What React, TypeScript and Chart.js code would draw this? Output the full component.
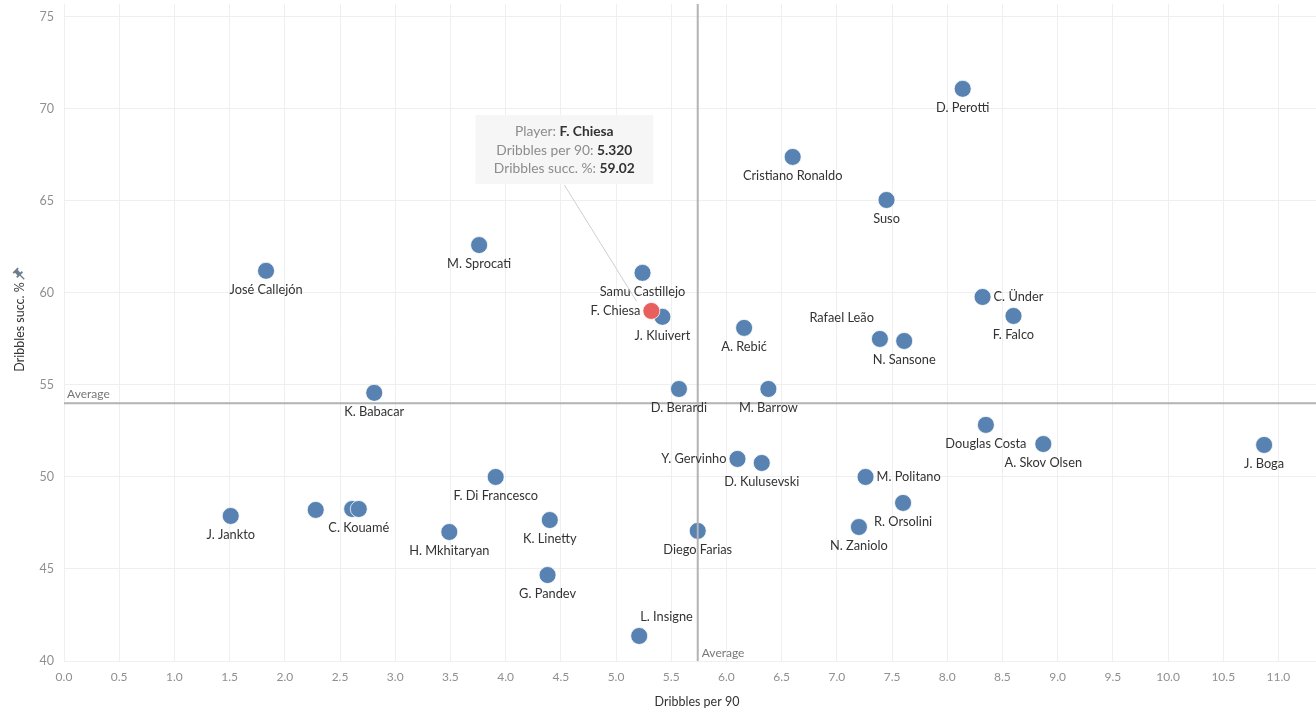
import React, { useEffect, useRef } from "react";
import { Chart, registerables } from "chart.js";

Chart.register(...registerables);

const players = [
  "D. Perotti", "Cristiano Ronaldo", "Suso", "M. Sprocati", "José Callejón",
  "Samu Castillejo", "C. Ünder", "F. Falco", "J. Kluivert", "A. Rebić",
  "Rafael Leão", "N. Sansone", "K. Babacar", "D. Berardi", "M. Barrow",
  "Douglas Costa", "A. Skov Olsen", "J. Boga", "F. Di Francesco", "Y. Gervinho",
  "D. Kulusevski", "M. Politano", "R. Orsolini", "N. Zaniolo", "J. Jankto",
  "", "", "C. Kouamé", "H. Mkhitaryan", "K. Linetty",
  "Diego Farias", "G. Pandev", "L. Insigne", "F. Chiesa",
];
const dribblesPer90 = [
  8.14, 6.6, 7.45, 3.76, 1.83,
  5.24, 8.32, 8.6, 5.42, 6.16,
  7.39, 7.61, 2.81, 5.57, 6.38,
  8.35, 8.87, 10.87, 3.91, 6.1,
  6.32, 7.26, 7.6, 7.2, 1.51,
  2.28, 2.61, 2.67, 3.49, 4.4,
  5.74, 4.38, 5.21, 5.32,
];
const dribbleSuccess = [
  71.09, 67.39, 65.05, 62.6, 61.2,
  61.09, 59.78, 58.75, 58.7, 58.1,
  57.5, 57.39, 54.57, 54.78, 54.78,
  52.83, 51.79, 51.74, 50.0, 50.98,
  50.76, 50.0, 48.59, 47.28, 47.88,
  48.21, 48.26, 48.26, 47.01, 47.66,
  47.07, 44.67, 41.36, 59.02,
];
const highlightedPlayer = "F. Chiesa";
const averageDribbles = 5.74;
const averageSuccess = 54.0;
const xTicks = [0, 0.5, 1, 1.5, 2, 2.5, 3, 3.5, 4, 4.5, 5, 5.5, 6, 6.5, 7, 7.5, 8, 8.5, 9, 9.5, 10, 10.5, 11];
const yTicks = [40, 45, 50, 55, 60, 65, 70, 75];
const xAxisTitle = "Dribbles per 90";
const yAxisTitle = "Dribbles succ. %";
const averageLabel = "Average";

const labelPlacement: Record<string, string> = {
  "F. Chiesa": "left",
  "Y. Gervinho": "left",
  "C. Ünder": "right",
  "M. Politano": "right",
  "Rafael Leão": "aboveLeft",
  "L. Insigne": "aboveRight",
};

const FONT = "Lato, 'Open Sans', sans-serif";

const zeroPadding = (scale: any) => {
  scale.paddingTop = 0;
  scale.paddingBottom = 0;
  scale.paddingLeft = 0;
  scale.paddingRight = 0;
};

const overlayPlugin = {
  id: "overlay",
  afterDatasetsDraw(chart: any) {
    const ctx = chart.ctx;
    const xs = chart.scales.x;
    const ys = chart.scales.y;
    const area = chart.chartArea;
    ctx.save();

    // average lines
    const ax = xs.getPixelForValue(averageDribbles);
    const ay = ys.getPixelForValue(averageSuccess);
    ctx.strokeStyle = "#b3b3b3";
    ctx.lineWidth = 2;
    ctx.beginPath();
    ctx.moveTo(area.left, ay);
    ctx.lineTo(area.right, ay);
    ctx.moveTo(ax, area.top);
    ctx.lineTo(ax, area.bottom);
    ctx.stroke();
    ctx.fillStyle = "#777";
    ctx.font = `12px ${FONT}`;
    ctx.textBaseline = "alphabetic";
    ctx.textAlign = "left";
    ctx.fillText(averageLabel, area.left + 3, ay - 5);
    ctx.fillText(averageLabel, ax + 4, area.bottom - 4);

    // point labels
    ctx.fillStyle = "#333";
    ctx.font = `12.8px ${FONT}`;
    ctx.textBaseline = "middle";
    players.forEach((name, i) => {
      if (!name) return;
      const px = xs.getPixelForValue(dribblesPer90[i]);
      const py = ys.getPixelForValue(dribbleSuccess[i]);
      const p = labelPlacement[name] || "below";
      if (p === "below") {
        ctx.textAlign = "center";
        ctx.fillText(name, px, py + 19);
      } else if (p === "left") {
        ctx.textAlign = "right";
        ctx.fillText(name, px - 11, py);
      } else if (p === "right") {
        ctx.textAlign = "left";
        ctx.fillText(name, px + 11, py);
      } else if (p === "aboveLeft") {
        ctx.textAlign = "right";
        ctx.fillText(name, px - 6, py - 21);
      } else if (p === "aboveRight") {
        ctx.textAlign = "left";
        ctx.fillText(name, px + 1, py - 19);
      }
    });

    // annotation tooltip for highlighted player
    const hi = players.indexOf(highlightedPlayer);
    if (hi >= 0) {
      const px = xs.getPixelForValue(dribblesPer90[hi]);
      const py = ys.getPixelForValue(dribbleSuccess[hi]);
      const bw = 178;
      const bh = 69;
      const cx = px - 87;
      const bottom = py - 127;
      ctx.strokeStyle = "#cfcfcf";
      ctx.lineWidth = 1;
      ctx.beginPath();
      ctx.moveTo(cx, bottom + 1);
      ctx.lineTo(px - 15, py - 10);
      ctx.stroke();
      ctx.fillStyle = "rgba(245,245,245,0.95)";
      ctx.fillRect(cx - bw / 2, bottom - bh, bw, bh);
      const lines: [string, string][] = [
        ["Player: ", highlightedPlayer],
        ["Dribbles per 90: ", dribblesPer90[hi].toFixed(3)],
        ["Dribbles succ. %: ", dribbleSuccess[hi].toFixed(2)],
      ];
      ctx.textBaseline = "middle";
      ctx.textAlign = "left";
      lines.forEach(([lab, val], k) => {
        const yy = bottom - bh + 17 + k * 18.5;
        ctx.font = `13.8px ${FONT}`;
        const w1 = ctx.measureText(lab).width;
        ctx.font = `bold 13.8px ${FONT}`;
        const w2 = ctx.measureText(val).width;
        const start = cx - (w1 + w2) / 2;
        ctx.font = `13.8px ${FONT}`;
        ctx.fillStyle = "#8c8c8c";
        ctx.fillText(lab, start, yy);
        ctx.font = `bold 13.8px ${FONT}`;
        ctx.fillStyle = "#333";
        ctx.fillText(val, start + w1, yy);
      });
    }

    // axis titles
    ctx.fillStyle = "#333";
    ctx.font = `12.5px ${FONT}`;
    ctx.textAlign = "center";
    ctx.textBaseline = "middle";
    ctx.fillText(xAxisTitle, 697, 702);
    ctx.save();
    ctx.translate(20, 327);
    ctx.rotate(-Math.PI / 2);
    ctx.fillText(yAxisTitle, 0, 0);
    ctx.restore();

    // pin icon
    ctx.save();
    ctx.translate(20, 275);
    ctx.rotate(-Math.PI / 4);
    ctx.fillStyle = "#6e7d8e";
    ctx.strokeStyle = "#6e7d8e";
    ctx.lineWidth = 1.3;
    ctx.beginPath();
    ctx.moveTo(0, 0);
    ctx.lineTo(0, 6);
    ctx.stroke();
    ctx.fillRect(-4, -1.5, 8, 1.8);
    ctx.fillRect(-2, -6, 4, 5);
    ctx.fillRect(-3.5, -7, 7, 1.8);
    ctx.restore();

    ctx.restore();
  },
};

export default function App() {
  const ref = useRef<HTMLCanvasElement | null>(null);
  useEffect(() => {
    document.body.style.margin = "0";
    if (!ref.current) return;
    const hiIndex = players.indexOf(highlightedPlayer);
    const others = players
      .map((_, i) => i)
      .filter((i) => i !== hiIndex)
      .map((i) => ({ x: dribblesPer90[i], y: dribbleSuccess[i] }));
    const chart = new Chart(ref.current, {
      type: "scatter",
      data: {
        datasets: [
          {
            label: highlightedPlayer,
            data: [{ x: dribblesPer90[hiIndex], y: dribbleSuccess[hiIndex] }],
            backgroundColor: "#e8605e",
            borderColor: "rgba(255,255,255,0.75)",
            borderWidth: 1,
            pointRadius: 8.5,
          },
          {
            label: "Players",
            data: others,
            backgroundColor: "#5782b1",
            borderColor: "rgba(255,255,255,0.75)",
            borderWidth: 1,
            pointRadius: 8.5,
          },
        ],
      },
      options: {
        animation: false,
        responsive: true,
        maintainAspectRatio: false,
        events: [],
        layout: { autoPadding: false, padding: { top: 4, right: 0, left: 0, bottom: 0 } },
        plugins: { legend: { display: false }, tooltip: { enabled: false } },
        scales: {
          x: {
            type: "linear",
            min: 0,
            max: 11.34,
            afterBuildTicks: (scale: any) => {
              scale.ticks = xTicks.map((v) => ({ value: v }));
            },
            afterFit: (scale: any) => {
              scale.height = 57;
              zeroPadding(scale);
            },
            ticks: {
              color: "#8f8f8f",
              font: { family: FONT, size: 12 },
              padding: 9,
              maxRotation: 0,
              autoSkip: false,
              callback: (v: any) => Number(v).toFixed(1),
            },
            grid: { color: "#efefef", drawTicks: false },
            border: { display: false },
          },
          y: {
            type: "linear",
            min: 40,
            max: 75.7,
            afterBuildTicks: (scale: any) => {
              scale.ticks = yTicks.map((v) => ({ value: v }));
            },
            afterFit: (scale: any) => {
              scale.width = 64;
              zeroPadding(scale);
            },
            ticks: {
              color: "#8f8f8f",
              font: { family: FONT, size: 12.5 },
              padding: 10,
              autoSkip: false,
            },
            grid: { color: "#efefef", drawTicks: false },
            border: { display: false },
          },
        },
      },
      plugins: [overlayPlugin],
    });
    return () => chart.destroy();
  }, []);
  return (
    <div style={{ width: 1316, height: 718, position: "relative", background: "#fff" }}>
      <canvas ref={ref} />
    </div>
  );
}
